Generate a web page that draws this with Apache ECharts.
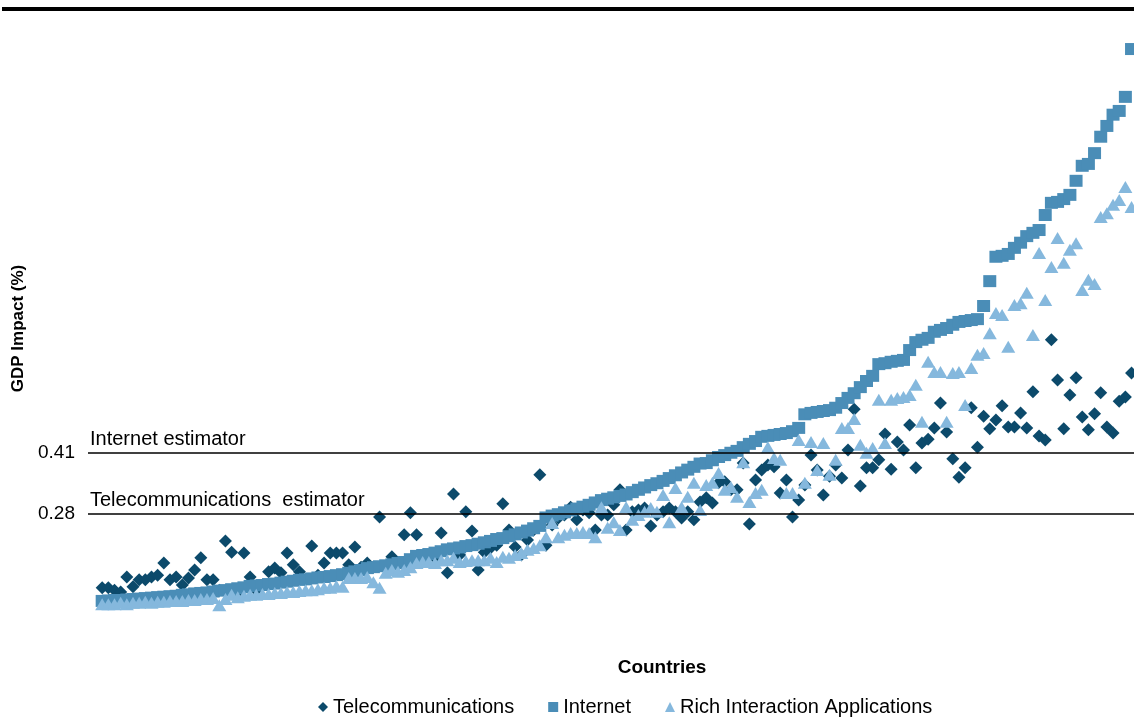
<!DOCTYPE html>
<html>
<head>
<meta charset="utf-8">
<script src="https://cdn.jsdelivr.net/npm/echarts@6/dist/echarts.min.js"></script>
<style>
html, body { margin: 0; padding: 0; background: #fff; }
#chart { width: 1134px; height: 720px; }
</style>
</head>
<body>
<div id="chart"></div>
<script>
var seriesNames = ['Telecommunications', 'Internet', 'Rich Interaction Applications'];

// one value per country, countries sorted by the Internet impact
var telecom = [
	0.122,0.122,0.117,0.113,0.145,0.124,0.139,0.139,0.145,0.149,
	0.175,0.139,0.145,0.128,0.143,0.160,0.186,0.139,0.139,0.117,
	0.222,0.198,0.113,0.196,0.145,0.117,0.128,0.156,0.164,0.154,
	0.196,0.171,0.156,0.139,0.211,0.149,0.175,0.196,0.196,0.196,
	0.171,0.209,0.166,0.175,0.166,0.273,0.164,0.188,0.171,0.235,
	0.282,0.235,0.181,0.190,0.186,0.239,0.154,0.322,0.192,0.284,
	0.243,0.160,0.198,0.207,0.213,0.301,0.245,0.209,0.192,0.224,
	0.245,0.363,0.213,0.256,0.271,0.277,0.294,0.267,0.288,0.282,
	0.245,0.277,0.277,0.299,0.331,0.245,0.284,0.288,0.292,0.254,
	0.277,0.284,0.292,0.284,0.271,0.284,0.267,0.305,0.314,0.303,
	0.346,0.348,0.331,0.331,0.388,0.258,0.352,0.373,0.384,0.380,
	0.324,0.352,0.273,0.309,0.341,0.405,0.373,0.320,0.360,0.384,
	0.356,0.416,0.503,0.339,0.378,0.378,0.395,0.450,0.375,0.433,
	0.416,0.469,0.378,0.431,0.439,0.463,0.516,0.454,0.397,0.358,
	0.378,0.506,0.422,0.488,0.461,0.480,0.510,0.465,0.465,0.495,
	0.463,0.540,0.446,0.437,0.651,0.565,0.461,0.533,0.570,0.486,
	0.459,0.493,0.538,0.465,0.452,0.520,0.529,0.580
];

var internet = [
	0.094,0.095,0.096,0.096,0.097,0.098,0.099,0.100,0.101,0.102,
	0.103,0.104,0.105,0.107,0.108,0.110,0.111,0.112,0.114,0.116,
	0.117,0.119,0.121,0.123,0.126,0.127,0.128,0.130,0.131,0.133,
	0.135,0.137,0.139,0.140,0.142,0.144,0.145,0.147,0.149,0.151,
	0.154,0.157,0.160,0.164,0.166,0.168,0.170,0.172,0.175,0.177,
	0.183,0.190,0.192,0.194,0.197,0.200,0.204,0.206,0.208,0.211,
	0.213,0.216,0.219,0.222,0.226,0.228,0.232,0.236,0.240,0.244,
	0.249,0.254,0.272,0.276,0.279,0.283,0.287,0.291,0.295,0.299,
	0.304,0.309,0.312,0.315,0.318,0.321,0.326,0.331,0.336,0.341,
	0.345,0.350,0.356,0.362,0.368,0.374,0.380,0.387,0.388,0.394,
	0.401,0.405,0.410,0.414,0.422,0.429,0.435,0.444,0.446,0.448,
	0.450,0.452,0.456,0.463,0.492,0.495,0.497,0.499,0.501,0.506,
	0.516,0.527,0.537,0.550,0.563,0.574,0.599,0.601,0.604,0.606,
	0.608,0.629,0.646,0.651,0.655,0.668,0.672,0.676,0.683,0.689,
	0.691,0.693,0.695,0.723,0.776,0.828,0.830,0.834,0.847,0.858,
	0.872,0.879,0.885,0.917,0.943,0.945,0.951,0.960,0.990,1.022,
	1.026,1.049,1.084,1.107,1.131,1.139,1.169,1.271
];

var ria = [
	0.087,0.087,0.087,0.090,0.087,0.090,0.090,0.092,0.090,0.092,
	0.092,0.094,0.094,0.094,0.096,0.096,0.098,0.098,0.100,0.085,
	0.098,0.107,0.102,0.105,0.107,0.107,0.109,0.109,0.111,0.111,
	0.113,0.113,0.115,0.117,0.117,0.119,0.122,0.122,0.126,0.124,
	0.143,0.143,0.143,0.145,0.134,0.122,0.154,0.160,0.156,0.160,
	0.166,0.175,0.177,0.177,0.175,0.181,0.181,0.186,0.177,0.179,
	0.181,0.181,0.181,0.186,0.177,0.188,0.186,0.192,0.196,0.203,
	0.207,0.213,0.230,0.260,0.230,0.235,0.239,0.239,0.241,0.239,
	0.230,0.294,0.250,0.262,0.245,0.294,0.267,0.277,0.284,0.292,
	0.284,0.320,0.262,0.335,0.294,0.316,0.346,0.288,0.341,0.346,
	0.367,0.331,0.337,0.316,0.390,0.305,0.324,0.331,0.422,0.399,
	0.395,0.324,0.324,0.437,0.346,0.433,0.373,0.431,0.363,0.395,
	0.463,0.463,0.482,0.427,0.410,0.420,0.523,0.431,0.523,0.527,
	0.529,0.533,0.555,0.476,0.604,0.582,0.582,0.476,0.580,0.582,
	0.512,0.591,0.619,0.623,0.665,0.708,0.704,0.636,0.725,0.729,
	0.751,0.661,0.836,0.736,0.806,0.868,0.815,0.843,0.857,0.757,
	0.779,0.770,0.913,0.921,0.939,0.949,0.977,0.934
];

var estimatorValues = [0.41, 0.28];
var estimatorNames = ['Internet estimator', 'Telecommunications  estimator'];

var font = '"Liberation Sans", Arial, sans-serif';

function points(values) {
	return values.map(function (v, i) {
		return [i, v];
	});
}

var chart = echarts.init(document.getElementById('chart'));

chart.setOption({
	animation: false,
	textStyle: { fontFamily: font },
	graphic: [{
		type: 'rect',
		left: 2,
		top: 7,
		shape: { width: 1132, height: 4 },
		style: { fill: '#000' }
	}],
	grid: { left: 88, right: 0, top: 12, bottom: 75 },
	legend: {
		left: 313,
		top: 692,
		itemGap: 34,
		itemWidth: 10,
		itemHeight: 10,
		textStyle: { fontSize: 20, color: '#000', fontFamily: font },
		data: [
			{ name: seriesNames[0], icon: 'diamond' },
			{ name: seriesNames[1], icon: 'rect' },
			{ name: seriesNames[2], icon: 'triangle' }
		]
	},
	xAxis: {
		type: 'value',
		min: -2.3,
		max: 167.4,
		name: 'Countries',
		nameLocation: 'middle',
		nameGap: 13,
		nameTextStyle: {
			fontSize: 19,
			fontWeight: 'bold',
			color: '#000',
			padding: [0, 0, 0, 102]
		},
		axisLine: { show: false },
		axisTick: { show: false },
		axisLabel: { show: false },
		splitLine: { show: false }
	},
	yAxis: {
		type: 'value',
		min: 0,
		max: 1.35,
		name: 'GDP Impact (%)',
		nameLocation: 'middle',
		nameGap: 58,
		nameTextStyle: { fontSize: 17, fontWeight: 'bold', color: '#000' },
		axisLine: { show: false },
		axisTick: { show: false },
		splitLine: { show: false },
		axisLabel: {
			customValues: estimatorValues,
			fontSize: 19,
			color: '#000',
			margin: 13
		}
	},
	series: [{
			name: seriesNames[0],
			type: 'scatter',
			symbol: 'diamond',
			symbolSize: [13, 13],
			itemStyle: { color: '#0c4a6b', opacity: 1 },
			data: points(telecom)
		}, {
			name: seriesNames[1],
			type: 'scatter',
			symbol: 'rect',
			symbolSize: [13, 12],
			itemStyle: { color: '#4a8db7', opacity: 1 },
			data: points(internet)
		}, {
			name: seriesNames[2],
			type: 'scatter',
			symbol: 'triangle',
			symbolSize: [14, 12],
			itemStyle: { color: '#85b8dd', opacity: 1 },
			data: points(ria),
			markLine: {
				silent: true,
				symbol: 'none',
				lineStyle: { color: '#000', type: 'solid', width: 1.5 },
				label: {
					position: 'insideStartTop',
					formatter: '{b}',
					color: '#000',
					fontSize: 20,
					distance: [2, 3]
				},
				data: estimatorValues.map(function (v, i) {
					return { name: estimatorNames[i], yAxis: v };
				})
			}
		}
	]
});
</script>
</body>
</html>
